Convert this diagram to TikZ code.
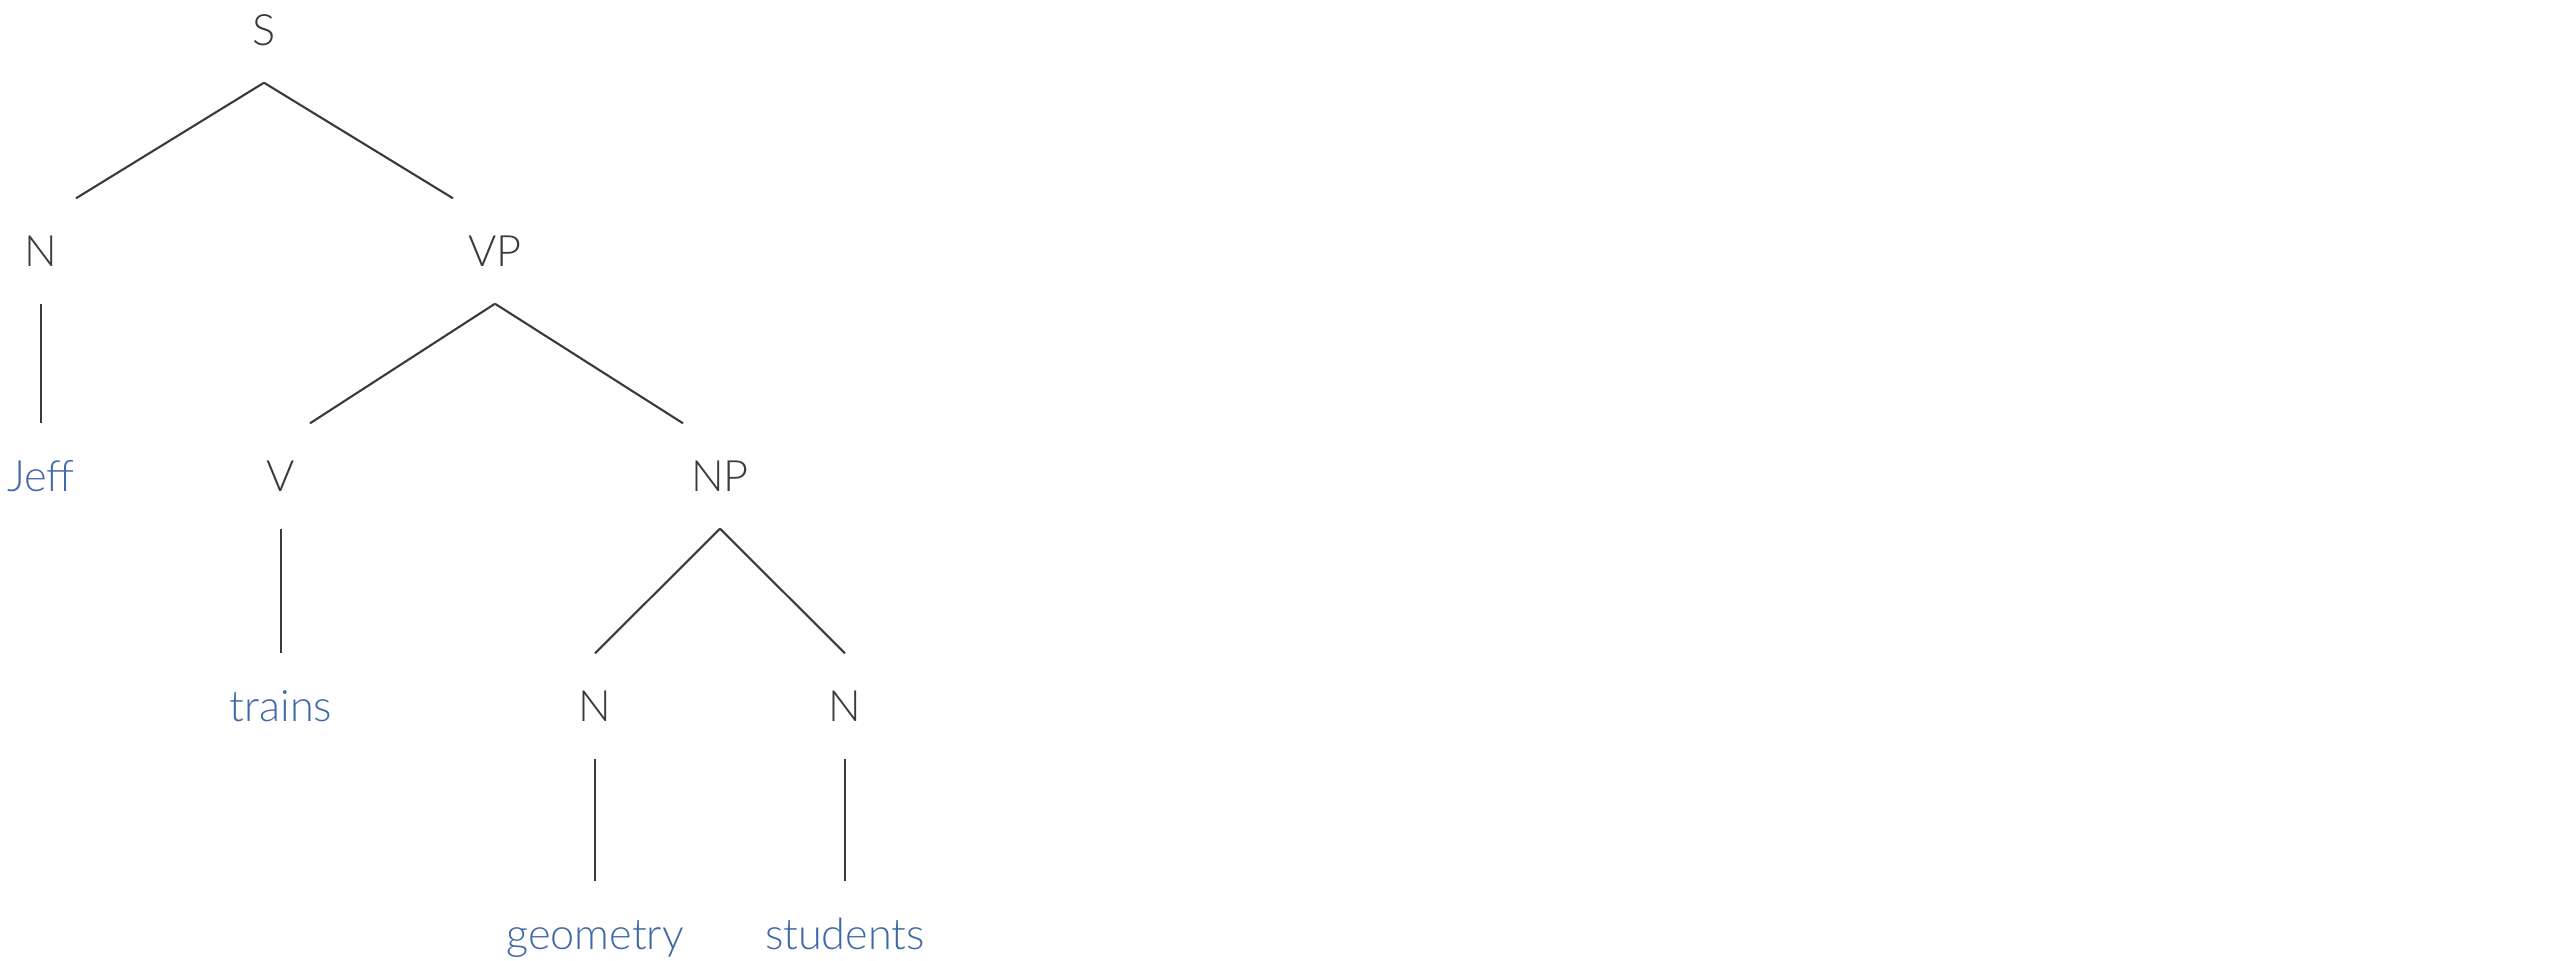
\documentclass[tikz,border=0pt]{standalone}
\usepackage{fontspec}
\setmainfont{Lato Light}
\definecolor{labelgray}{HTML}{3A3A3A}
\definecolor{wordblue}{HTML}{4169A8}
\tikzset{
	cat/.style={inner sep=0, minimum height=1.04cm, text height=0.31cm, text depth=0, font=\fontsize{12.3}{14}\selectfont, text=labelgray},
	word/.style={cat, text=wordblue},
	branch/.style={draw=labelgray, line width=0.6pt}
}
\begin{document}
\begin{tikzpicture}
	\useasboundingbox (0,0) rectangle (25.6,-9.6);
	% categories
	\node[cat] (S) at (2.64,-0.30) {S};
	\node[cat] (N1) at (0.41,-2.51) {N};
	\node[cat] (VP) at (4.95,-2.51) {VP};
	\node[cat] (V) at (2.81,-4.76) {V};
	\node[cat] (NP) at (7.20,-4.76) {NP};
	\node[cat] (N2) at (5.95,-7.06) {N};
	\node[cat] (N3) at (8.45,-7.06) {N};
	% words
	\node[word] (jeff) at (0.41,-4.76) {Jeff};
	\node[word] (trains) at (2.81,-7.06) {trains};
	\node[word] (geometry) at (5.95,-9.34) {geometry};
	\node[word] (students) at (8.45,-9.34) {students};
	% branches
	\draw[branch] (S.south) -- ([xshift=3.5mm]N1.north);
	\draw[branch] (S.south) -- ([xshift=-4.2mm]VP.north);
	\draw[branch] (N1.south) -- (jeff.north);
	\draw[branch] (VP.south) -- ([xshift=2.9mm]V.north);
	\draw[branch] (VP.south) -- ([xshift=-3.7mm]NP.north);
	\draw[branch] (V.south) -- (trains.north);
	\draw[branch] (NP.south) -- (N2.north);
	\draw[branch] (NP.south) -- (N3.north);
	\draw[branch] (N2.south) -- (geometry.north);
	\draw[branch] (N3.south) -- (students.north);
\end{tikzpicture}
\end{document}
